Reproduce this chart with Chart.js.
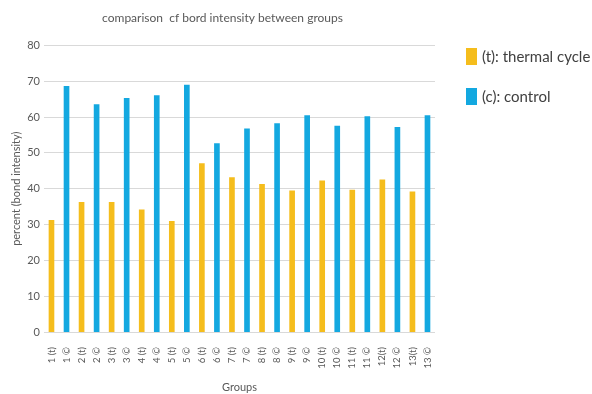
<!DOCTYPE html>
<html>
<head>
<meta charset="utf-8">
<script src="https://cdn.jsdelivr.net/npm/chart.js@4/dist/chart.umd.min.js"></script>
<style>
  html, body { margin: 0; padding: 0; background: #fff; }
  #wrap { position: relative; width: 592px; height: 394px; }
  canvas { position: absolute; left: 0; top: 0; }
  .legend { position: absolute; left: 466px; font-family: Lato, "Open Sans", sans-serif; font-size: 15px; color: #404040; display: flex; align-items: center; }
  .legend span.box { display: inline-block; width: 11px; height: 17px; margin-right: 5px; }
</style>
</head>
<body>
<div id="wrap">
  <canvas id="c" width="592" height="394"></canvas>
  <div class="legend" style="top:47px"><span class="box" style="background:#F5BD1C"></span>(t): thermal cycle</div>
  <div class="legend" style="top:87px"><span class="box" style="background:#13A8E0"></span>(c): control</div>
</div>
<script>
const categories = [
  "1 (t)", "1 ©", "2 (t)", "2 ©", "3 (t)", "3 ©", "4 (t)", "4 ©", "5 (t)", "5 ©",
  "6 (t)", "6 ©", "7 (t)", "7 ©", "8 (t)", "8 ©", "9 (t)", "9 ©", "10 (t)", "10 ©",
  "11 (t)", "11 ©", "12(t)", "12 ©", "13(t)", "13 ©"
];
// thermal cycle groups sit on the "(t)" slots, controls on the "©" slots
const thermalCycle = [
  31.2, null, 36.2, null, 36.2, null, 34.1, null, 30.9, null,
  47.0, null, 43.1, null, 41.2, null, 39.4, null, 42.2, null,
  39.6, null, 42.5, null, 39.1, null
];
const control = [
  null, 68.6, null, 63.5, null, 65.2, null, 66.0, null, 68.9,
  null, 52.6, null, 56.7, null, 58.2, null, 60.4, null, 57.5,
  null, 60.1, null, 57.1, null, 60.4
];
const yTicks = [0, 10, 20, 30, 40, 50, 60, 70, 80];

const grey = "#595959";
const fontFamily = "Lato, 'Open Sans', sans-serif";

new Chart(document.getElementById("c"), {
  type: "bar",
  data: {
    labels: categories,
    datasets: [
      { label: "(t): thermal cycle", data: thermalCycle, backgroundColor: "#F5BD1C", barThickness: 5, grouped: false },
      { label: "(c): control", data: control, backgroundColor: "#13A8E0", barThickness: 5, grouped: false }
    ]
  },
  options: {
    responsive: false,
    animation: false,
    layout: { padding: { left: 10, right: 157, top: 5, bottom: 0 } },
    plugins: {
      legend: { display: false },
      tooltip: { enabled: false },
      title: {
        display: true,
        text: "comparison  cf bord intensity between groups",
        color: grey,
        font: { family: fontFamily, size: 12, weight: "normal" },
        padding: { top: 6, bottom: 20 }
      }
    },
    scales: {
      x: {
        grid: { display: false },
        border: { display: false },
        ticks: {
          color: grey,
          font: { family: fontFamily, size: 9.5 },
          minRotation: 90,
          maxRotation: 90,
          autoSkip: false,
          padding: 7
        },
        title: {
          display: true,
          text: "Groups",
          color: grey,
          font: { family: fontFamily, size: 11 },
          padding: { top: 5, bottom: 0 }
        }
      },
      y: {
        min: 0,
        max: 80,
        afterBuildTicks: (axis) => { axis.ticks = yTicks.map(v => ({ value: v })); },
        grid: { color: "#d9d9d9", drawTicks: false },
        border: { display: false },
        ticks: {
          color: grey,
          font: { family: fontFamily, size: 11 },
          padding: 4
        },
        title: {
          display: true,
          text: "percent (bond intensity)",
          color: grey,
          font: { family: fontFamily, size: 11 },
          padding: { top: 0, bottom: 0 }
        }
      }
    }
  }
});
</script>
</body>
</html>
